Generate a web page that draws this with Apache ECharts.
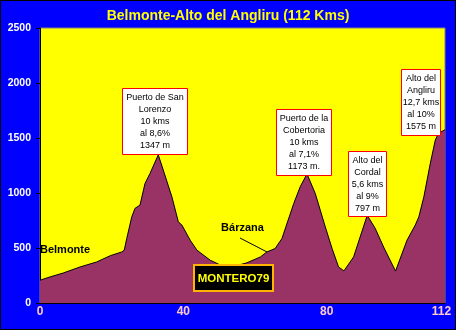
<!DOCTYPE html>
<html><head><meta charset="utf-8">
<script src="https://cdn.jsdelivr.net/npm/echarts@6/dist/echarts.min.js"></script>
<style>html,body{margin:0;padding:0;background:#0000FF}#c{width:456px;height:330px}</style>
</head><body><div id="c"></div>
<script>
const titleText = 'Belmonte-Alto del Angliru (112 Kms)';
const km =   [0, 2.8, 6.5, 11.2, 15.8, 19.6, 22.8, 23.5, 24.2, 25.6, 26.5, 27.9, 29.3, 30.7, 33.0, 34.4, 36.8, 38.6, 39.6, 41.9, 43.8, 47.5, 50, 53, 56, 57.7, 61.5, 63.3, 65.6, 67.5, 70.8, 72.6, 74.5, 76.8, 79.6, 81.5, 83.3, 84.8, 87.5, 91.3, 93.5, 96, 99.2, 102.4, 104.7, 105.7, 107.1, 108.9, 110.3, 111.2, 113];
const elev = [207, 237, 273, 328, 373, 430, 464, 480, 586, 783, 860, 890, 1087, 1178, 1347, 1208, 965, 738, 708, 571, 480, 389, 350, 340, 350, 365, 419, 464, 495, 586, 905, 1057, 1173, 996, 692, 495, 328, 292, 419, 797, 680, 500, 290, 571, 708, 783, 965, 1270, 1482, 1543, 1575];
const xTicks = [0, 40, 80, 112];
const yTicks = [0, 500, 1000, 1500, 2000, 2500];
const annotations = [
  ['Puerto de San', 'Lorenzo', '10 kms', 'al 8,6%', '1347 m'],
  ['Puerto de la', 'Cobertoria', '10 kms', 'al 7,1%', '1173 m.'],
  ['Alto del', 'Cordal', '5,6 kms', 'al 9%', '797 m'],
  ['Alto del', 'Angliru', '12,7 kms', 'al 10%', '1575 m']
];
const placeLabels = ['Belmonte', 'Bárzana'];
const signature = 'MONTERO79';

// layout of annotation boxes (pixels)
const boxes = [
  {x: 122, y: 88, w: 65, h: 66},
  {x: 276, y: 109, w: 55, h: 66},
  {x: 348, y: 151, w: 38, h: 65},
  {x: 401, y: 69, w: 39, h: 66}
];

const data = km.map((k, i) => [k, elev[i]]);
const FF = 'Liberation Sans, Arial, sans-serif';

const graphics = [];
boxes.forEach((b, i) => {
  graphics.push({type: 'rect', z: 100, shape: {x: b.x + 0.5, y: b.y + 0.5, width: b.w, height: b.h},
    style: {fill: '#FFFFFF', stroke: '#FF0000', lineWidth: 1}});
  graphics.push({type: 'text', z: 101, x: b.x + b.w / 2 + 0.5, y: b.y + b.h / 2 + 1,
    style: {text: annotations[i].join('\n'), align: 'center', verticalAlign: 'middle',
      fontSize: 9, fontFamily: FF, lineHeight: 12, fill: '#000000'}});
});
graphics.push({type: 'text', z: 101, x: 40, y: 250,
  style: {text: placeLabels[0], align: 'left', verticalAlign: 'middle', fontSize: 11, fontWeight: 'bold', fontFamily: FF, fill: '#000000'}});
graphics.push({type: 'text', z: 101, x: 242.5, y: 228,
  style: {text: placeLabels[1], align: 'center', verticalAlign: 'middle', fontSize: 11, fontWeight: 'bold', fontFamily: FF, fill: '#000000'}});
graphics.push({type: 'line', z: 101, shape: {x1: 240, y1: 238, x2: 267, y2: 252}, style: {stroke: '#000000', lineWidth: 1}});
graphics.push({type: 'rect', z: 100, shape: {x: 194, y: 265, width: 79, height: 26},
  style: {fill: '#000000', stroke: '#FFB400', lineWidth: 2}});
graphics.push({type: 'text', z: 101, x: 233.5, y: 278.5,
  style: {text: signature, align: 'center', verticalAlign: 'middle', fontSize: 11.5, fontWeight: 'bold', fontFamily: FF, fill: '#FFFF00'}});
graphics.push({type: 'rect', z: 110, shape: {x: 0.5, y: 0.5, width: 455, height: 329},
  style: {fill: 'none', stroke: '#000000', lineWidth: 1}});

const chart = echarts.init(document.getElementById('c'), null, {renderer: 'canvas'});
chart.setOption({
  backgroundColor: '#0000FF',
  animation: false,
  title: {text: titleText, left: 'center', top: 9, padding: 0,
    textStyle: {color: '#FFFF00', fontSize: 14, fontWeight: 'bold', fontFamily: FF}},
  grid: {left: 40, right: 11, top: 28, bottom: 27, show: true, backgroundColor: '#FFFF00', borderColor: '#808080', borderWidth: 1},
  xAxis: {type: 'value', min: 0, max: 113,
    axisLine: {show: true, onZero: false, lineStyle: {color: '#000000', width: 1}},
    axisTick: {show: false},
    splitLine: {show: false},
    axisLabel: {customValues: xTicks, color: '#FFCCCC', fontSize: 12, fontWeight: 'bold', fontFamily: FF, margin: 3,
      formatter: v => String(v)}},
  yAxis: {type: 'value', min: 0, max: 2500, interval: 500,
    axisLine: {show: true, lineStyle: {color: '#000000', width: 1}},
    axisTick: {show: true, inside: false, length: 4, lineStyle: {color: '#000000'}},
    splitLine: {show: false},
    axisLabel: {color: '#FFFFFF', fontSize: 10.5, fontWeight: 'bold', fontFamily: FF, margin: 9,
      customValues: yTicks, formatter: v => String(v)}},
  series: [{type: 'line', data: data, showSymbol: false, symbol: 'none', smooth: false,
    lineStyle: {color: '#000000', width: 1},
    areaStyle: {color: '#993366', opacity: 1}, z: 2}],
  graphic: graphics
});
</script></body></html>
